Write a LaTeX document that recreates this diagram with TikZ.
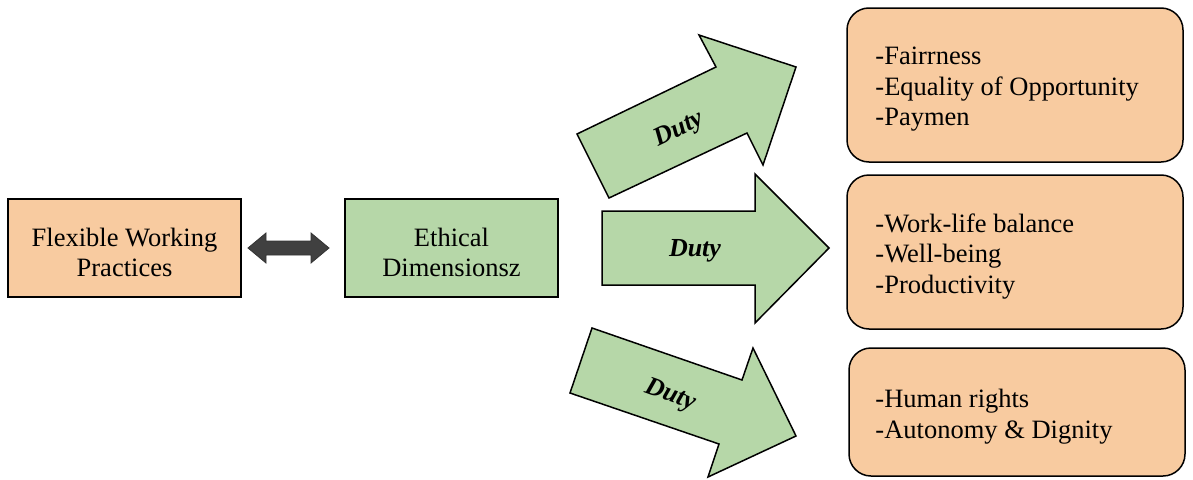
\documentclass[tikz,border=0pt]{standalone}
\usepackage{fontspec}
\setmainfont{Liberation Serif}
\definecolor{peach}{HTML}{F8CBA0}
\definecolor{leaf}{HTML}{B6D7A8}
\definecolor{darkarrow}{HTML}{404040}
\tikzset{
  plainbox/.style={draw=black, line width=1.3pt, rectangle, inner sep=0pt},
  listbox/.style={draw=black, line width=1.5pt, fill=peach, rounded corners=22pt,
    minimum width=336pt, minimum height=#1, inner sep=0pt},
  boxtext/.style={align=center, inner sep=0pt, font=\fontsize{26.5}{30.5}\selectfont},
  listtext/.style={align=left, inner sep=0pt, anchor=west, font=\fontsize{26.5}{30.5}\selectfont},
  bigarrow/.style={draw=black, line width=1.5pt, fill=leaf, line join=miter},
  dutylabel/.style={font=\fontsize{26}{30}\selectfont\bfseries\itshape, inner sep=0pt},
}
\begin{document}
\begin{tikzpicture}[x=1pt, y=-1pt]
\useasboundingbox (0,0) rectangle (1193,479);
% left boxes
\node[plainbox, fill=peach, minimum width=233pt, minimum height=98pt] (fwp) at (124.5,248) {};
\node[boxtext] (fwpt) at ([yshift=-4.5pt]fwp.center) {Flexible Working\\Practices};
\node[plainbox, fill=leaf, minimum width=213pt, minimum height=98pt] (eth) at (451.5,248) {};
\node[boxtext] (etht) at ([yshift=-4.5pt]eth.center) {Ethical\\Dimensionsz};
% double arrow between them
\draw[fill=darkarrow, draw=black!80, line width=0.8pt, line join=miter]
  (248,248) -- (266,233) -- (266,241) -- (311,241) -- (311,233) -- (329,248)
  -- (311,263) -- (311,255) -- (266,255) -- (266,263) -- cycle;
% right boxes
\node[listbox=154pt] (boxa) at (1015,85) {};
\node[listtext] (boxat) at ([xshift=29pt, yshift=-4.5pt]boxa.west) {-Fairrness\\-Equality of Opportunity\\-Paymen};
\node[listbox=154pt] (boxb) at (1015,252) {};
\node[listtext] (boxbt) at ([xshift=29pt, yshift=-4.5pt]boxb.west) {-Work-life balance\\-Well-being\\-Productivity};
\node[listbox=128pt] (boxc) at (1017,412) {};
\node[listtext] (boxct) at ([xshift=27pt, yshift=-4.5pt]boxc.west) {-Human rights\\-Autonomy \& Dignity};
% big arrows
\draw[bigarrow] (577,134) -- (716,67) -- (699,35) -- (796,67) -- (763,165) -- (747,133) -- (609,198) -- cycle;
\draw[bigarrow] (602,211) -- (755,211) -- (755,174) -- (829,248) -- (755,323) -- (755,285) -- (602,285) -- cycle;
\draw[bigarrow] (592,328) -- (742,380) -- (753,348) -- (796,436) -- (708,477) -- (719,444) -- (570,393) -- cycle;
\node[dutylabel, rotate=26] (d1) at (679,130) {Duty};
\node[dutylabel] (d2) at (695,251) {Duty};
\node[dutylabel, rotate=-19.5] (d3) at (670,396) {Duty};
\end{tikzpicture}
\end{document}
